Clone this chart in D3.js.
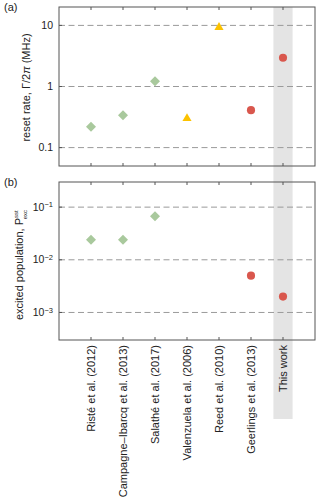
<!DOCTYPE html>
<html>
<head>
<meta charset="utf-8">
<script src="https://cdn.jsdelivr.net/npm/d3@7"></script>
<style>
  body { margin: 0; background: #fff; }
  svg { font-family: "Liberation Sans", Arial, sans-serif; }
</style>
</head>
<body>
<svg id="chart" width="335" height="499"></svg>
<script>
// data
const refs = ["Risté et al. (2012)", "Campagne–Ibarcq et al. (2013)", "Salathé et al. (2017)",
  "Valenzuela et al. (2006)", "Reed et al. (2010)", "Geerlings et al. (2013)", "This work"];
const kinds = ["diamond", "diamond", "diamond", "triangle", "triangle", "circle", "circle"];
const resetRate = [0.22, 0.34, 1.22, 0.30, 9.3, 0.41, 2.95];        // MHz
const excPop = [0.024, 0.024, 0.067, null, null, 0.005, 0.002];
const rateTicks = [0.1, 1, 10];
const popTicks = [1e-3, 1e-2, 1e-1];

const colors = { diamond: "#a9c99d", triangle: "#fcc200", circle: "#d9574d" };
const shapes = {
  diamond: d3.symbol(d3.symbolSquare, 50),
  triangle: d3.symbol(d3.symbolTriangle, 36),
  circle: d3.symbol(d3.symbolCircle, 52)
};

const svg = d3.select("#chart");
const left = 59, right = 315;
const fs = 11;
const x = d3.scaleLinear().domain([0, refs.length + 1]).range([left, right]);

const pa = { top: 7, bottom: 166 };
const pb = { top: 182, bottom: 340 };
const yA = d3.scaleLog().domain([0.05, 20]).range([pa.bottom, pa.top]);
const yB = d3.scaleLog().domain([3e-4, 0.3]).range([pb.bottom, pb.top]);

// grey band behind "This work"
svg.append("rect")
  .attr("x", x(7 - 0.3)).attr("width", x(7.3) - x(6.7))
  .attr("y", pa.top).attr("height", 419 - pa.top)
  .attr("fill", "#e4e4e4");

function panel(p, y, ticks, values, fmt) {
  const g = svg.append("g");
  g.selectAll("line.grid").data(ticks).join("line")
    .attr("class", "grid")
    .attr("x1", left).attr("x2", right)
    .attr("y1", d => y(d)).attr("y2", d => y(d))
    .attr("stroke", "#9a9a9a").attr("stroke-dasharray", "6,3.5").attr("stroke-width", 1);

  // inward ticks, top and bottom
  const xs = d3.range(1, refs.length + 1);
  g.selectAll("line.tb").data(xs).join("line")
    .attr("x1", d => x(d)).attr("x2", d => x(d))
    .attr("y1", p.bottom).attr("y2", p.bottom - 3)
    .attr("stroke", "#555");
  g.selectAll("line.tt").data(xs).join("line")
    .attr("x1", d => x(d)).attr("x2", d => x(d))
    .attr("y1", p.top).attr("y2", p.top + 3)
    .attr("stroke", "#555");
  g.selectAll("line.tl").data(ticks).join("line")
    .attr("x1", left).attr("x2", left + 3)
    .attr("y1", d => y(d)).attr("y2", d => y(d))
    .attr("stroke", "#555");

  g.append("rect")
    .attr("x", left).attr("y", p.top)
    .attr("width", right - left).attr("height", p.bottom - p.top)
    .attr("fill", "none").attr("stroke", "#555").attr("stroke-width", 1);

  const lab = g.selectAll("text.tick").data(ticks).join("text")
    .attr("x", left - 6).attr("y", d => y(d)).attr("dy", "0.35em")
    .attr("text-anchor", "end").attr("font-size", 10.5).attr("fill", "#222");
  fmt(lab);

  g.selectAll("path.mark").data(values.map((v, i) => ({ v, i })).filter(d => d.v != null))
    .join("path")
    .attr("d", d => shapes[kinds[d.i]]())
    .attr("transform", d => `translate(${x(d.i + 1)},${y(d.v)})` + (kinds[d.i] === "diamond" ? " rotate(45)" : ""))
    .attr("fill", d => colors[kinds[d.i]]);
}

panel(pa, yA, rateTicks, resetRate, sel => sel.text(d => d3.format("~g")(d)));
panel(pb, yB, popTicks, excPop, sel => {
  sel.append("tspan").text("10");
  sel.append("tspan").attr("dy", "-0.45em").attr("font-size", 7.5).text(d => "−" + Math.round(-Math.log10(d)));
});

// panel letters
svg.append("text").attr("x", 4).attr("y", 11).attr("font-size", fs).attr("fill", "#222").text("(a)");
svg.append("text").attr("x", 4).attr("y", 186).attr("font-size", fs).attr("fill", "#222").text("(b)");

// y labels
const ya = svg.append("text")
  .attr("transform", `translate(30,${(pa.top + pa.bottom) / 2 + 1}) rotate(-90)`)
  .attr("text-anchor", "middle").attr("font-size", fs).attr("fill", "#222");
ya.append("tspan").text("reset rate, Γ/2");
ya.append("tspan").attr("font-style", "italic").text("π");
ya.append("tspan").text(" (MHz)");

const yb = svg.append("text")
  .attr("transform", `translate(23,${(pb.top + pb.bottom) / 2 + 4}) rotate(-90)`)
  .attr("text-anchor", "middle").attr("font-size", fs).attr("fill", "#222");
yb.append("tspan").text("excited population, P");
yb.append("tspan").attr("font-size", 6).attr("dy", "-0.9em").text("sst");
yb.append("tspan").attr("font-size", 6).attr("dx", "-9").attr("dy", "1.6em").text("exc");

// reference labels
svg.selectAll("text.ref").data(refs).join("text")
  .attr("transform", (d, i) => `translate(${x(i + 1)},345) rotate(-90)`)
  .attr("text-anchor", "end").attr("dy", "0.35em")
  .attr("font-size", fs).attr("fill", "#222")
  .text(d => d);
</script>
</body>
</html>
